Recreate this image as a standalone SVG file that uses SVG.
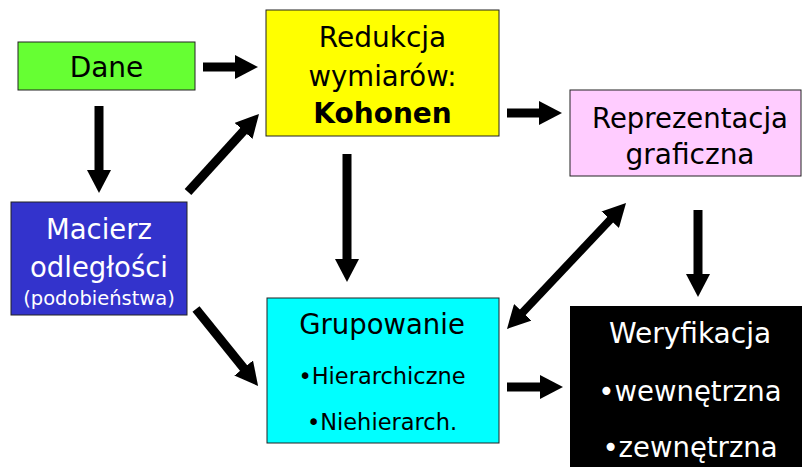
<svg xmlns="http://www.w3.org/2000/svg" width="802" height="467" viewBox="0 0 802 467">
<style>
  text { font-family: "DejaVu Sans", Verdana, sans-serif; text-anchor: middle; }
  .box { stroke: #222; stroke-width: 1; }
  .dk { fill: #000; }
  .wt { fill: #fff; }
  .arr { stroke: #000; stroke-width: 9; fill: none; }
  .arr2 { stroke: #000; stroke-width: 8; fill: none; }
</style>
<defs>
  <marker id="ah" markerUnits="userSpaceOnUse" markerWidth="24" markerHeight="24" refX="2" refY="12" orient="auto-start-reverse">
    <path d="M0,0 L23,12 L0,24 z" fill="#000"/>
  </marker>
</defs>
<rect width="802" height="467" fill="#fff"/>

<g id="dane">
  <rect class="box" x="18" y="42" width="177" height="48" fill="#66FF33"/>
  <text class="dk" x="106.5" y="77" font-size="28">Dane</text>
</g>

<g id="redukcja">
  <rect class="box" x="266" y="10" width="233" height="126" fill="#FFFF00"/>
  <text class="dk" x="382.5" y="47" font-size="28">Redukcja</text>
  <text class="dk" x="382.5" y="86" font-size="27.5">wymiarów:</text>
  <text class="dk" x="382.5" y="123" font-size="28" font-weight="bold">Kohonen</text>
</g>

<g id="macierz">
  <rect class="box" x="11" y="202" width="176" height="113" fill="#3333CC"/>
  <text class="wt" x="99" y="239" font-size="27.5">Macierz</text>
  <text class="wt" x="99" y="277" font-size="27.5">odległości</text>
  <text class="wt" x="99" y="305" font-size="19.5">(podobieństwa)</text>
</g>

<g id="reprezentacja">
  <rect class="box" x="570" y="90" width="231" height="86" fill="#FFCCFF"/>
  <text class="dk" x="690" y="128" font-size="27.5">Reprezentacja</text>
  <text class="dk" x="690" y="164" font-size="28">graficzna</text>
</g>

<g id="grupowanie">
  <rect class="box" x="267" y="298" width="232" height="145" fill="#00FFFF"/>
  <text class="dk" x="382" y="334" font-size="27.5">Grupowanie</text>
  <text class="dk" x="382" y="384" font-size="22.5">•Hierarchiczne</text>
  <text class="dk" x="382" y="430" font-size="22.5">•Niehierarch.</text>
</g>

<g id="weryfikacja">
  <rect x="570" y="306" width="232" height="161" fill="#000"/>
  <text class="wt" x="690" y="343" font-size="28">Weryfikacja</text>
  <text class="wt" x="690" y="401" font-size="27.5">•wewnętrzna</text>
  <text class="wt" x="690" y="457" font-size="27.5">•zewnętrzna</text>
</g>

<g id="connectors">
  <line class="arr" x1="203" y1="67" x2="237" y2="67" marker-end="url(#ah)"/>
  <line class="arr" x1="99" y1="106" x2="99" y2="172" marker-end="url(#ah)"/>
  <line class="arr" x1="188" y1="192" x2="244.9" y2="129.5" marker-end="url(#ah)"/>
  <line class="arr" x1="196" y1="309" x2="244.9" y2="369.6" marker-end="url(#ah)"/>
  <line class="arr" x1="347" y1="154" x2="347" y2="261" marker-end="url(#ah)"/>
  <line class="arr" x1="507" y1="113" x2="541" y2="113" marker-end="url(#ah)"/>
  <line class="arr2" x1="611.6" y1="218.3" x2="521.4" y2="313.7" marker-start="url(#ah)" marker-end="url(#ah)"/>
  <line class="arr" x1="698" y1="210" x2="698" y2="276" marker-end="url(#ah)"/>
  <line class="arr" x1="507" y1="387" x2="542" y2="387" marker-end="url(#ah)"/>
</g>
</svg>
